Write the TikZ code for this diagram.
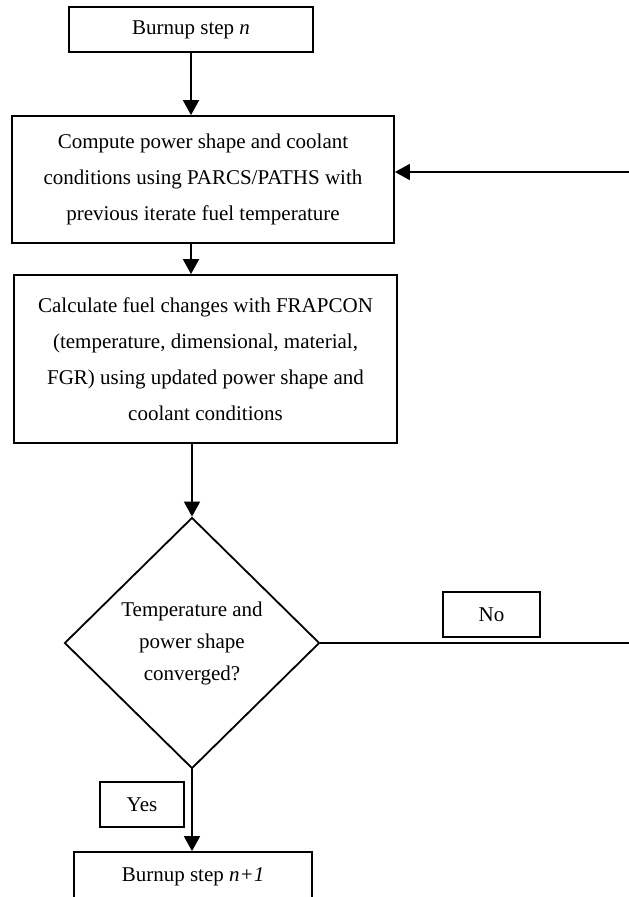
\documentclass[tikz,border=0pt]{standalone}
\usepackage{fontspec}
\setmainfont{Liberation Serif}
\usetikzlibrary{shapes.geometric,arrows.meta}
\begin{document}
\begin{tikzpicture}[x=1pt, y=-1pt,
          step box/.style={draw, line width=1.8pt, inner sep=0pt, align=center, font=\fontsize{21}{36}\selectfont},
          decision/.style={draw, diamond, line width=1.8pt, inner sep=0pt, align=center, minimum width=255pt, minimum height=251pt, font=\fontsize{21}{32}\selectfont},
          answer/.style={draw, line width=1.8pt, inner sep=0pt, minimum height=45pt, font=\fontsize{21}{25}\selectfont},
          flow/.style={line width=1.8pt, -{Triangle[length=15pt, width=16pt]}}]
          \useasboundingbox (0,0) rectangle (629,897);
          \node[step box, minimum width=244pt, minimum height=45pt] (start) at (191, 29.5) {Burnup step \textit{n}};
          \node[step box, minimum width=382pt, minimum height=127pt] (power) at (203, 179.5) {Compute power shape and coolant\\conditions using PARCS/PATHS with\\previous iterate fuel temperature};
          \node[step box, minimum width=383pt, minimum height=168pt] (fuel) at (205.5, 359) {Calculate fuel changes with FRAPCON\\(temperature, dimensional, material,\\FGR) using updated power shape and\\coolant conditions};
          \node[decision] (conv) at (192, 643) {Temperature and\\power shape\\converged?};
          \node[answer, minimum width=97pt] (no) at (491.5, 614.5) {No};
          \node[answer, minimum width=84pt] (yes) at (142, 804.5) {Yes};
          \node[step box, minimum width=238pt, minimum height=50pt] (next) at (193, 877) {Burnup step \textit{n+1}};
          \coordinate (ret) at (629, 172);
          \coordinate (loop) at (629, 643);
          \draw[flow] (start.south) -- (start.south |- power.north);
          \draw[flow] (power.south -| start) -- (fuel.north -| start);
          \draw[flow] (fuel.south -| conv) -- (conv.north);
          \draw[flow] (conv.south) -- (conv.south |- next.north);
          \draw[line width=1.8pt] (conv.east) -- (loop);
          \draw[flow] (ret) -- (power.east |- ret);
      \end{tikzpicture}
\end{document}
